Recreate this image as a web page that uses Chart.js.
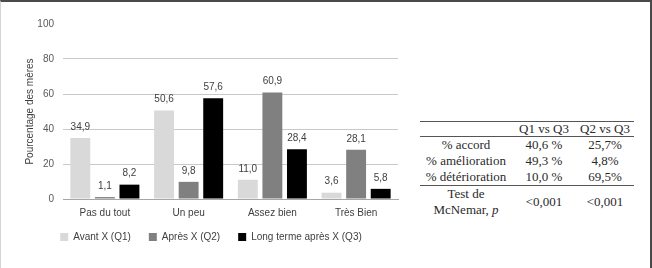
<!DOCTYPE html>
<html lang="fr">
<head>
<meta charset="utf-8">
<script src="https://cdn.jsdelivr.net/npm/chart.js@4"></script>
<style>
  body { margin: 0; background: #fff; }
  #page { position: relative; width: 652px; height: 268px; overflow: hidden; }
  #cadre {
    position: absolute; left: 0; top: 0; width: 652px; height: 268px; box-sizing: border-box;
    border-top: 2px solid #4a4a4a; border-right: 2px solid #4a4a4a; border-left: 1px solid #d4d4d4;
    pointer-events: none;
  }
  #graphique { position: absolute; left: 0; top: 0; }
  #tableau {
    position: absolute; left: 420px; top: 121px; width: 214px;
    border-collapse: collapse; font-family: "Liberation Serif", serif; font-size: 13px; color: #2a2a2a;
  }
  #tableau td, #tableau th { padding: 0; text-align: center; font-weight: normal; line-height: 16px; white-space: nowrap; }
  #tableau tr.entete th { border-top: 1px solid #555; border-bottom: 1px solid #555; line-height: 14px; }
  #tableau tr.test td { border-top: 1px solid #555; }
</style>
</head>
<body>
<div id="page">
  <canvas id="graphique" width="410" height="268"></canvas>
  <table id="tableau"></table>
  <div id="cadre"></div>
</div>
<script>
const categories = ["Pas du tout", "Un peu", "Assez bien", "Très Bien"];
const avantQ1 = [34.9, 50.6, 11.0, 3.6];
const apresQ2 = [1.1, 9.8, 60.9, 28.1];
const longTermeQ3 = [8.2, 57.6, 28.4, 5.8];
const seriesNoms = ["Avant X (Q1)", "Après X (Q2)", "Long terme après X (Q3)"];
const seriesCouleurs = ["#d9d9d9", "#808080", "#000000"];

const colonnesTableau = ["", "Q1 vs Q3", "Q2 vs Q3"];
const lignesTableau = ["% accord", "% amélioration", "% détérioration"];
const q1VsQ3 = ["40,6 %", "49,3 %", "10,0 %"];
const q2VsQ3 = ["25,7%", "4,8%", "69,5%"];
const testMcNemar = ["<0,001", "<0,001"];

// tableau de droite
const tableau = document.getElementById("tableau");
let html = '<tr class="entete">' + colonnesTableau.map(c => `<th>${c}</th>`).join("") + "</tr>";
lignesTableau.forEach((ligne, i) => {
  html += `<tr><td>${ligne}</td><td>${q1VsQ3[i]}</td><td>${q2VsQ3[i]}</td></tr>`;
});
html += `<tr class="test"><td>Test de<br>McNemar, <i>p</i></td><td>${testMcNemar[0].replace("<", "&lt;")}</td><td>${testMcNemar[1].replace("<", "&lt;")}</td></tr>`;
tableau.innerHTML = html;
tableau.querySelectorAll("tr").forEach(tr => {
  tr.children[0].style.width = "92px";
  tr.children[1].style.width = "64px";
});

const etiquettes = {
  id: "etiquettes",
  afterDatasetsDraw(chart) {
    const ctx = chart.ctx;
    ctx.save();
    ctx.font = "10px 'Liberation Sans'";
    ctx.fillStyle = "#404040";
    ctx.textAlign = "center";
    ctx.textBaseline = "middle";
    chart.data.datasets.forEach((ds, i) => {
      chart.getDatasetMeta(i).data.forEach((barre, j) => {
        ctx.fillText(ds.data[j].toFixed(1).replace(".", ","), barre.x, barre.y - 11);
      });
    });
    ctx.restore();
  }
};

// remonte la légende (le padding sert aussi d'espacement horizontal)
const remonterLegende = {
  id: "remonterLegende",
  afterLayout(chart) {
    const leg = chart.legend;
    if (!leg) return;
    const d = leg.top - chart.scales.x.bottom + 9;
    leg.top -= d;
    leg.bottom -= d;
  }
};

const donnees = [avantQ1, apresQ2, longTermeQ3];

new Chart(document.getElementById("graphique"), {
  type: "bar",
  data: {
    labels: categories,
    datasets: donnees.map((valeurs, i) => ({
      label: seriesNoms[i],
      data: valeurs,
      backgroundColor: seriesCouleurs[i],
      borderWidth: 0,
      categoryPercentage: 0.88,
      barPercentage: 0.81
    }))
  },
  options: {
    responsive: false,
    animation: false,
    layout: { padding: { top: 24, right: 12, left: 24, bottom: 7 } },
    plugins: {
      tooltip: { enabled: false },
      legend: {
        position: "bottom",
        labels: {
          boxWidth: 8,
          boxHeight: 8,
          padding: 18,
          color: "#404040",
          font: { family: "Liberation Sans", size: 10 }
        }
      }
    },
    scales: {
      x: {
        grid: { display: false, drawTicks: false },
        border: { color: "#a6a6a6" },
        ticks: { color: "#404040", font: { family: "Liberation Sans", size: 10 }, padding: 8 },
        afterFit: s => { s.height = 24; }
      },
      y: {
        min: 0,
        max: 100,
        ticks: { stepSize: 20, color: "#595959", font: { family: "Liberation Sans", size: 10 }, padding: 9 },
        grid: {
          drawTicks: false,
          color: c => (c.tick && c.tick.value === 100 ? "rgba(0,0,0,0)" : "#c8c8c8")
        },
        border: { display: false },
        title: {
          display: true,
          text: "Pourcentage des mères",
          color: "#404040",
          font: { family: "Liberation Sans", size: 10 },
          padding: { top: 0, bottom: 4 }
        },
        afterFit: s => { s.width = 39; }
      }
    }
  },
  plugins: [etiquettes, remonterLegende]
});
</script>
</body>
</html>
